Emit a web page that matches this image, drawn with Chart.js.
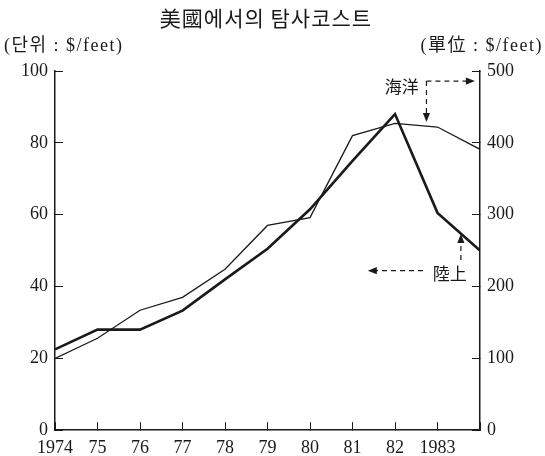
<!DOCTYPE html>
<html>
<head>
<meta charset="utf-8">
<script src="https://cdn.jsdelivr.net/npm/chart.js@4/dist/chart.umd.min.js"></script>
<style>
  html, body { margin: 0; padding: 0; background: #fff; }
  canvas { display: block; }
</style>
</head>
<body>
<canvas id="c" width="545" height="456"></canvas>
<script>
// ---- data ----
const years = [1974, 1975, 1976, 1977, 1978, 1979, 1980, 1981, 1982, 1983, 1984];
const xTickLabels = ['1974', '75', '76', '77', '78', '79', '80', '81', '82', '1983', ''];
const landCost = [22.5, 28, 28, 33.3, 42, 50.5, 61.5, 75, 88, 60.5, 50];      // 陸上, left axis
const oceanCost = [100, 128, 167, 185, 224, 285, 296, 410, 427, 422, 391];    // 海洋, right axis
const leftTicks = [0, 20, 40, 60, 80, 100];
const rightTicks = [0, 100, 200, 300, 400, 500];
const titleText = '美國에서의 탐사코스트';
const leftUnit = '(단위 : $/feet)';
const rightUnit = '(單位 : $/feet)';
const oceanLabel = '海洋';
const landLabel = '陸上';

const INK = '#1a1a1a';
const SERIF = '"Liberation Serif", "DejaVu Serif", serif';
const MIXED = '"Liberation Serif", "Noto Sans CJK KR", "Noto Sans CJK JP", serif';
const CJK = '"Noto Sans CJK KR", "Noto Sans CJK JP", sans-serif';

function arrowHead(ctx, x, y, dir, size) {
  ctx.save();
  ctx.translate(x, y);
  ctx.rotate(dir);
  ctx.beginPath();
  ctx.moveTo(0, 0);
  ctx.lineTo(-size, -size * 0.4);
  ctx.lineTo(-size, size * 0.4);
  ctx.closePath();
  ctx.fill();
  ctx.restore();
}

const decorPlugin = {
  id: 'decor',
  afterDraw(chart) {
    const ctx = chart.ctx;
    const xs = chart.scales.x, yl = chart.scales.y, yr = chart.scales.y1;
    const hasLS = 'letterSpacing' in ctx;
    ctx.save();
    ctx.fillStyle = INK;
    ctx.strokeStyle = INK;
    ctx.textBaseline = 'middle';
    // title
    ctx.font = '21px ' + CJK;
    ctx.textAlign = 'center';
    if (hasLS) ctx.letterSpacing = '1px';
    ctx.fillText(titleText, 266, 18);
    // unit captions
    ctx.font = '18px ' + MIXED;
    if (hasLS) ctx.letterSpacing = '1.5px';
    ctx.textAlign = 'left';
    ctx.fillText(leftUnit, 4, 46);
    ctx.textAlign = 'right';
    ctx.fillText(rightUnit, 543, 46);
    if (hasLS) ctx.letterSpacing = '0px';

    // ocean annotation (right axis)
    ctx.font = '17px ' + CJK;
    ctx.textAlign = 'center';
    ctx.fillText(oceanLabel, xs.getPixelForValue(1982.16), yr.getPixelForValue(478));
    ctx.lineWidth = 1.2;
    ctx.setLineDash([5, 4]);
    const ox = xs.getPixelForValue(1982.74);
    const oy = yr.getPixelForValue(486);
    const oTipX = xs.getPixelForValue(1983.88);
    const oTipY = yr.getPixelForValue(429);
    ctx.beginPath();
    ctx.moveTo(ox, oy); ctx.lineTo(oTipX - 6, oy);
    ctx.moveTo(ox, oy); ctx.lineTo(ox, oTipY - 6);
    ctx.stroke();
    ctx.setLineDash([]);
    arrowHead(ctx, oTipX, oy, 0, 9);
    arrowHead(ctx, ox, oTipY, Math.PI / 2, 9);

    // land annotation (left axis)
    ctx.fillText(landLabel, xs.getPixelForValue(1983.29), yl.getPixelForValue(43.6));
    ctx.setLineDash([5, 4]);
    const ly = yl.getPixelForValue(44.4);
    const lStart = xs.getPixelForValue(1982.66);
    const lTip = xs.getPixelForValue(1981.36);
    const vx = xs.getPixelForValue(1983.55);
    const vStart = yl.getPixelForValue(47.4);
    const vTip = yl.getPixelForValue(54.6);
    ctx.beginPath();
    ctx.moveTo(lStart, ly); ctx.lineTo(lTip + 6, ly);
    ctx.moveTo(vx, vStart); ctx.lineTo(vx, vTip + 6);
    ctx.stroke();
    ctx.setLineDash([]);
    arrowHead(ctx, lTip, ly, Math.PI, 9);
    arrowHead(ctx, vx, vTip, -Math.PI / 2, 9);
    ctx.restore();
  }
};

new Chart(document.getElementById('c'), {
  type: 'line',
  data: {
    datasets: [
      {
        label: landLabel,
        data: years.map((y, i) => ({ x: y, y: landCost[i] })),
        yAxisID: 'y',
        borderColor: INK,
        borderWidth: 2.6,
        pointRadius: 0,
        tension: 0,
        fill: false
      },
      {
        label: oceanLabel,
        data: years.map((y, i) => ({ x: y, y: oceanCost[i] })),
        yAxisID: 'y1',
        borderColor: INK,
        borderWidth: 1.3,
        pointRadius: 0,
        tension: 0,
        fill: false
      }
    ]
  },
  options: {
    responsive: false,
    animation: false,
    layout: { padding: { top: 71, right: 0, bottom: 0, left: 0 } },
    plugins: {
      legend: { display: false },
      title: { display: false },
      tooltip: { enabled: false }
    },
    scales: {
      x: {
        type: 'linear',
        min: 1974,
        max: 1984,
        afterBuildTicks: s => { s.ticks = years.map(v => ({ value: v })); },
        ticks: {
          callback: (v) => xTickLabels[years.indexOf(v)] ?? '',
          font: { family: SERIF, size: 18 },
          color: INK,
          padding: 15,
          maxRotation: 0,
          autoSkip: false
        },
        grid: { display: true, drawOnChartArea: false, tickLength: -8, color: INK, lineWidth: 1 },
        border: { display: true, color: INK, width: 1.5 },
        afterFit: s => { s.height = 23; }
      },
      y: {
        position: 'left',
        min: 0,
        max: 100,
        afterBuildTicks: s => { s.ticks = leftTicks.map(v => ({ value: v })); },
        ticks: {
          font: { family: SERIF, size: 18 },
          color: INK,
          padding: 15
        },
        grid: { display: true, drawOnChartArea: false, tickLength: -8, color: INK, lineWidth: 1 },
        border: { display: true, color: INK, width: 1.5 },
        afterFit: s => { s.width = 55; }
      },
      y1: {
        position: 'right',
        min: 0,
        max: 500,
        afterBuildTicks: s => { s.ticks = rightTicks.map(v => ({ value: v })); },
        ticks: {
          font: { family: SERIF, size: 18 },
          color: INK,
          padding: 15
        },
        grid: { display: true, drawOnChartArea: false, tickLength: -8, color: INK, lineWidth: 1 },
        border: { display: true, color: INK, width: 1.5 },
        afterFit: s => { s.width = 65; }
      }
    }
  },
  plugins: [decorPlugin]
});
</script>
</body>
</html>
